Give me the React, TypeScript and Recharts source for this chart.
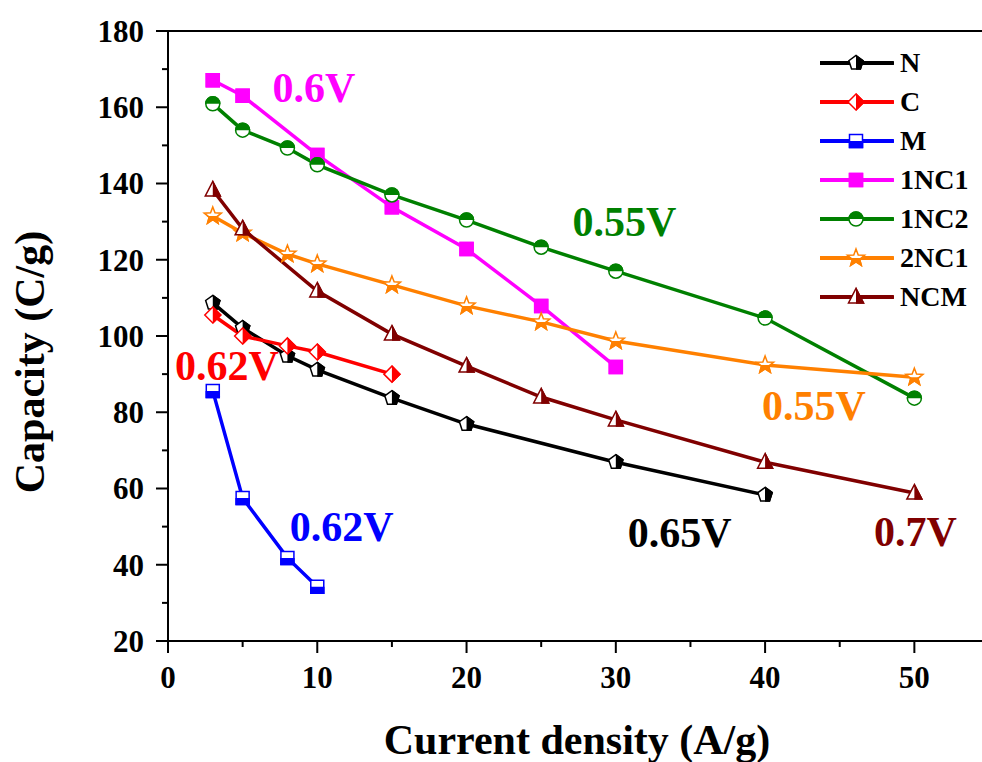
import React from "react";
import { LineChart, Line, XAxis, YAxis, ReferenceLine, ReferenceDot } from "recharts";

const FONT = '"Liberation Serif", "Times New Roman", serif';

// current density (A/g) and capacity (C/g) per sample
const xN = [3, 5, 8, 10, 15, 20, 30, 40];
const yN = [108.7, 102.1, 94.8, 91.1, 83.7, 76.9, 66.9, 58.3];

const xC = [3, 5, 8, 10, 15];
const yC = [105.5, 100, 97.4, 95.8, 90];

const xM = [3, 5, 8, 10];
const yM = [85.6, 57.5, 41.8, 34.2];

const x1NC1 = [3, 5, 10, 15, 20, 25, 30];
const y1NC1 = [167.1, 163, 147.5, 133.8, 122.8, 107.9, 91.9];

const x1NC2 = [3, 5, 8, 10, 15, 20, 25, 30, 40, 50];
const y1NC2 = [160.9, 154, 149.3, 144.9, 137, 130.4, 123.3, 117, 104.7, 83.7];

const x2NC1 = [3, 5, 8, 10, 15, 20, 25, 30, 40, 50];
const y2NC1 = [131.5, 127, 121.5, 118.9, 113.4, 107.9, 103.7, 98.7, 92.4, 89.2];

const xNCM = [3, 5, 10, 15, 20, 25, 30, 40, 50];
const yNCM = [138.3, 128.1, 111.8, 100.5, 92.1, 84, 78, 66.9, 58.8];

const xTicks = [0, 5, 10, 15, 20, 25, 30, 35, 40, 45, 50, 55];
const yTicks = [20, 30, 40, 50, 60, 70, 80, 90, 100, 110, 120, 130, 140, 150, 160, 170, 180];

// voltage window notes: text, colour, x, y (data units)
const notes = [
  { text: "0.6V", color: "#ff00ff", x: 7.0, y: 165.2 },
  { text: "0.55V", color: "#008000", x: 27.1, y: 129.9 },
  { text: "0.62V", color: "#ff0000", x: 0.47, y: 92.1 },
  { text: "0.62V", color: "#0000ff", x: 8.16, y: 49.9 },
  { text: "0.65V", color: "#000000", x: 30.8, y: 48.3 },
  { text: "0.7V", color: "#800000", x: 47.3, y: 48.6 },
  { text: "0.55V", color: "#ff8000", x: 39.8, y: 81.6 },
];

const toRows = (xs: number[], ys: number[]) => xs.map((x, i) => ({ x, y: ys[i] }));

const series = [
  { key: "N", color: "#000000", shape: "pentagon", fill: "right", data: toRows(xN, yN) },
  { key: "C", color: "#ff0000", shape: "diamond", fill: "right", data: toRows(xC, yC) },
  { key: "M", color: "#0000ff", shape: "square", fill: "bottom", data: toRows(xM, yM) },
  { key: "1NC1", color: "#ff00ff", shape: "square", fill: "full", data: toRows(x1NC1, y1NC1) },
  { key: "1NC2", color: "#008000", shape: "circle", fill: "top", data: toRows(x1NC2, y1NC2) },
  { key: "2NC1", color: "#ff8000", shape: "star", fill: "bottom", data: toRows(x2NC1, y2NC1) },
  { key: "NCM", color: "#800000", shape: "triangle", fill: "right", data: toRows(xNCM, yNCM) },
];

function shapePath(shape: string) {
  if (shape === "pentagon") {
    const r = 7.5;
    const pts = [0, 1, 2, 3, 4].map((k) => {
      const a = (-90 + k * 72) * (Math.PI / 180);
      return `${(r * Math.cos(a)).toFixed(2)},${(r * Math.sin(a)).toFixed(2)}`;
    });
    return "M" + pts.join("L") + "Z";
  }
  if (shape === "diamond") return "M0,-8L8,0L0,8L-8,0Z";
  if (shape === "square") return "M-6.5,-6.5L6.5,-6.5L6.5,6.5L-6.5,6.5Z";
  if (shape === "circle") return "M-7,0A7,7 0 1,0 7,0A7,7 0 1,0 -7,0Z";
  if (shape === "triangle") return "M0,-8.5L7.5,6L-7.5,6Z";
  // star
  const pts: string[] = [];
  for (let k = 0; k < 10; k++) {
    const r = k % 2 === 0 ? 9 : 3.8;
    const a = (-90 + k * 36) * (Math.PI / 180);
    pts.push(`${(r * Math.cos(a)).toFixed(2)},${(r * Math.sin(a)).toFixed(2)}`);
  }
  return "M" + pts.join("L") + "Z";
}

function clipRect(fill: string) {
  if (fill === "right") return { x: 0, y: -12, width: 12, height: 24 };
  if (fill === "bottom") return { x: -12, y: 0, width: 24, height: 12 };
  if (fill === "top") return { x: -12, y: -12, width: 24, height: 12 };
  return { x: -12, y: -12, width: 24, height: 24 };
}

function Marker({ cx, cy, color, shape, fill, id }: any) {
  if (cx == null || cy == null) return null;
  const d = shapePath(shape);
  return (
    <g transform={`translate(${cx},${cy})`}>
      <clipPath id={id}>
        <rect {...clipRect(fill)} />
      </clipPath>
      <path d={d} fill="#fff" stroke={color} strokeWidth={1.5} />
      <path d={d} fill={color} stroke={color} strokeWidth={1.5} clipPath={`url(#${id})`} />
    </g>
  );
}

const YTick = (props: any) => {
  const { x, y, payload } = props;
  const major = payload.value % 20 === 0;
  return (
    <g>
      <line x1={x - (major ? 12 : 6)} x2={x} y1={y} y2={y} stroke="#000" strokeWidth={2} />
      {major && (
        <text x={x - 24} y={y} dy="0.35em" textAnchor="end" fontFamily={FONT} fontWeight="bold" fontSize={31} fill="#000">
          {payload.value}
        </text>
      )}
    </g>
  );
};

const XTick = (props: any) => {
  const { x, y, payload } = props;
  const major = payload.value % 10 === 0;
  return (
    <g>
      <line x1={x} x2={x} y1={y} y2={y + (major ? 12 : 6)} stroke="#000" strokeWidth={2} />
      {major && payload.value <= 50 && (
        <text x={x} y={y + 47} textAnchor="middle" fontFamily={FONT} fontWeight="bold" fontSize={31} fill="#000">
          {payload.value}
        </text>
      )}
    </g>
  );
};

const noteLabel = (text: string, color: string) => (p: any) => (
  <text x={p.viewBox.x} y={p.viewBox.y} dy="0.34em" fontFamily={FONT} fontWeight="bold" fontSize={42} fill={color}>
    {text}
  </text>
);

function LegendBox() {
  return (
    <div style={{ position: "absolute", left: 820, top: 0 }}>
      {series.map((s, i) => (
        <div
          key={s.key}
          style={{ position: "absolute", top: 63 + i * 39 - 15, left: 0, height: 30, display: "flex", alignItems: "center", whiteSpace: "nowrap" }}
        >
          <svg width={74} height={30}>
            <line x1={0} x2={73} y1={15} y2={15} stroke={s.color} strokeWidth={4} strokeLinecap="round" />
            <Marker cx={36} cy={15} color={s.color} shape={s.shape} fill={s.fill} id={`leg-${s.key}`} />
          </svg>
          <span style={{ marginLeft: 6, fontFamily: FONT, fontWeight: "bold", fontSize: 28, lineHeight: "30px", color: "#000" }}>
            {s.key}
          </span>
        </div>
      ))}
    </div>
  );
}

export default function App() {
  return (
    <div style={{ position: "absolute", left: 0, top: 0, width: 982, height: 762, overflow: "hidden", background: "#fff" }}>
      <LineChart width={1000} height={762} margin={{ top: 31, right: 11, bottom: 0, left: 0 }}>
        <XAxis
          type="number"
          dataKey="x"
          domain={[0, 55]}
          ticks={xTicks}
          height={121}
          axisLine={{ stroke: "#000", strokeWidth: 2 }}
          tickLine={false}
          tickSize={0}
          tickMargin={0}
          tick={<XTick />}
          interval={0}
          label={() => (
            <text x={577} y={754} textAnchor="middle" fontFamily={FONT} fontWeight="bold" fontSize={42} fill="#000">
              Current density (A/g)
            </text>
          )}
        />
        <YAxis
          type="number"
          dataKey="y"
          domain={[20, 180]}
          ticks={yTicks}
          width={168}
          axisLine={{ stroke: "#000", strokeWidth: 2 }}
          tickLine={false}
          tickSize={0}
          tickMargin={0}
          tick={<YTick />}
          interval={0}
          label={() => (
            <text transform="translate(44,362) rotate(-90)" textAnchor="middle" fontFamily={FONT} fontWeight="bold" fontSize={42} fill="#000">
              Capacity (C/g)
            </text>
          )}
        />
        <ReferenceLine y={180} stroke="#000" strokeWidth={2} />
        {series.map((s) => (
          <Line
            key={s.key}
            data={s.data}
            dataKey="y"
            name={s.key}
            type="linear"
            stroke={s.color}
            strokeWidth={3.5}
            isAnimationActive={false}
            dot={(p: any) => (
              <Marker key={`${s.key}-${p.index}`} cx={p.cx} cy={p.cy} color={s.color} shape={s.shape} fill={s.fill} id={`clip-${s.key}-${p.index}`} />
            )}
            activeDot={false}
          />
        ))}
        {notes.map((n, i) => (
          <ReferenceDot key={i} x={n.x} y={n.y} r={0} stroke="none" fill="none" ifOverflow="visible" label={noteLabel(n.text, n.color)} />
        ))}
      </LineChart>
      <LegendBox />
    </div>
  );
}
